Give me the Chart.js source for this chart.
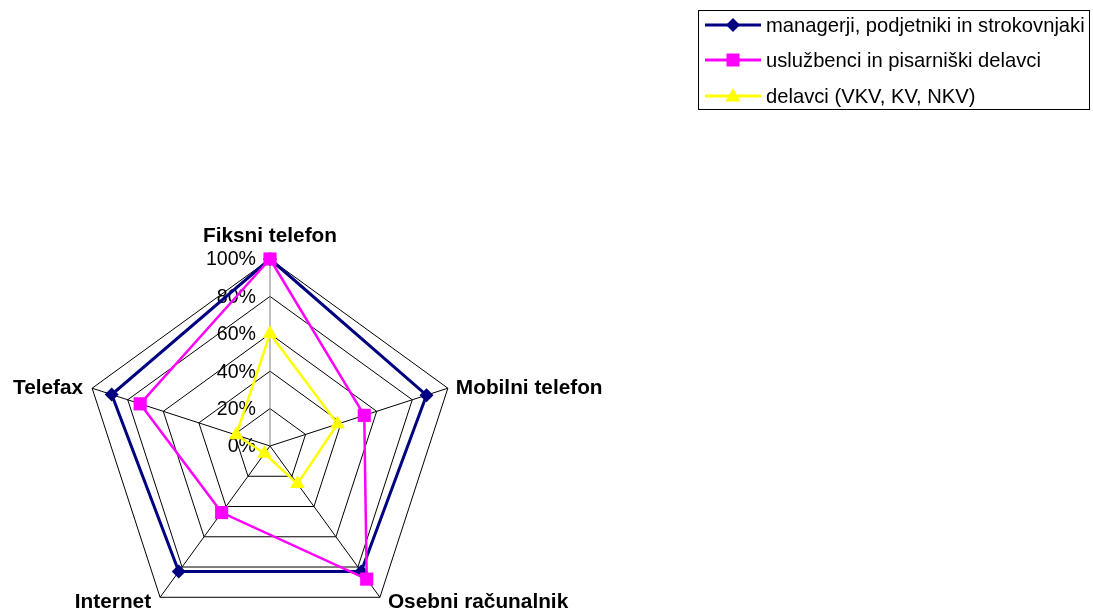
<!DOCTYPE html>
<html lang="sl">
<head>
  <meta charset="UTF-8">
  <script src="https://cdn.jsdelivr.net/npm/chart.js"></script>
  <title>Uporaba komunikacijske opreme</title>
  <style>
    body { margin: 0; width: 1093px; height: 611px; overflow: hidden; background: #fff; font-family: Arial, "Liberation Sans", sans-serif; }
    #wrap { position: absolute; left: 0; top: 0; width: 1093px; height: 660px; }
    #legend { position: absolute; left: 698px; top: 10px; width: 392px; height: 100px; border: 1px solid #000; box-sizing: border-box; }
    .item { position: absolute; left: 6px; height: 22px; display: flex; align-items: center; font-size: 20.2px; color: #000; white-space: nowrap; }
    .item svg { margin-right: 5px; }
  </style>
</head>
<body>
  <div id="wrap"><canvas id="radar" width="1093" height="660"></canvas></div>
  <div id="legend"></div>

  <script>
    const categories = ["Fiksni telefon", "Mobilni telefon", "Osebni računalnik", "Internet", "Telefax"];
    const seriesNames = ["managerji, podjetniki in strokovnjaki", "uslužbenci in pisarniški delavci", "delavci (VKV, KV, NKV)"];
    const managerji = [100, 88, 83, 83, 89];
    const usluzbenci = [100, 53, 88, 44, 73];
    const delavci = [60, 38, 25, 5, 19];
    const colors = ["#000080", "#FF00FF", "#FFFF00"];
    const markers = ["rectRot", "rect", "triangle"];

    Chart.defaults.font.family = 'Arial, "Liberation Sans", sans-serif';

    // tick labels left of the vertical axis, category labels beside the vertices
    const radarText = {
      id: "radarText",
      beforeDatasetsDraw(chart) {
        const s = chart.scales.r, ctx = chart.ctx;
        ctx.save();
        ctx.font = '19.6px Arial, "Liberation Sans", sans-serif';
        ctx.fillStyle = "#000";
        ctx.textAlign = "right";
        ctx.textBaseline = "middle";
        s.ticks.forEach(t => {
          const d = s.getDistanceFromCenterForValue(t.value);
          ctx.fillText(t.value + "%", s.xCenter - 14, s.yCenter - d + 1);
        });
        ctx.restore();
      },
      afterDraw(chart) {
        const s = chart.scales.r, ctx = chart.ctx;
        ctx.save();
        ctx.font = 'bold 20.8px Arial, "Liberation Sans", sans-serif';
        ctx.fillStyle = "#000";
        ctx.textBaseline = "middle";
        categories.forEach((label, i) => {
          const p = s.getPointPosition(i, s.drawingArea);
          if (Math.abs(p.x - s.xCenter) < 1) {
            ctx.textAlign = "center";
            ctx.fillText(label, p.x, p.y - 23);
          } else {
            const right = p.x > s.xCenter;
            const bottom = p.y > s.yCenter + 50;
            ctx.textAlign = right ? "left" : "right";
            ctx.fillText(label, p.x + (right ? 8 : -9), p.y + (bottom ? 5 : 0));
          }
        });
        ctx.restore();
      }
    };

    const values = [managerji, usluzbenci, delavci];
    const sizes = [7, 9.3, 8.5];
    const widths = [3, 2.5, 2.5];

    new Chart(document.getElementById("radar"), {
      type: "radar",
      data: {
        labels: categories,
        datasets: values.map((v, i) => ({
          label: seriesNames[i],
          data: v,
          borderColor: colors[i],
          backgroundColor: colors[i],
          borderWidth: widths[i],
          fill: false,
          tension: 0,
          pointStyle: markers[i],
          pointRadius: sizes[i],
          pointBorderWidth: 0,
          pointBackgroundColor: colors[i],
          pointBorderColor: colors[i],
          order: 3 - i
        }))
      },
      options: {
        responsive: false,
        animation: false,
        layout: { padding: { left: 83, top: 259, right: 636, bottom: 27 } },
        plugins: { legend: { display: false }, tooltip: { enabled: false } },
        scales: {
          r: {
            min: 0,
            max: 100,
            ticks: { stepSize: 20, display: false },
            pointLabels: { display: false },
            grid: { color: "#000", lineWidth: 1 },
            angleLines: { color: ctx => ctx.index === 0 ? "#808080" : "#000", lineWidth: 1 }
          }
        }
      },
      plugins: [radarText]
    });

    // legend box
    const legend = document.getElementById("legend");
    const rowTop = [3, 38, 74];
    const shapes = [
      '<polygon points="28,3 35,10 28,17 21,10"/>',
      '<rect x="21.5" y="3.5" width="13" height="13"/>',
      '<polygon points="28,2 35.5,15.5 20.5,15.5"/>'
    ];
    seriesNames.forEach((name, i) => {
      const div = document.createElement("div");
      div.className = "item";
      div.style.top = rowTop[i] + "px";
      div.innerHTML = `<svg width="56" height="20" viewBox="0 0 56 20">
          <line x1="0" y1="10" x2="56" y2="10" stroke="${colors[i]}" stroke-width="2.8"/>
          <g fill="${colors[i]}">${shapes[i]}</g></svg><span>${name}</span>`;
      legend.appendChild(div);
    });
  </script>
</body>
</html>
